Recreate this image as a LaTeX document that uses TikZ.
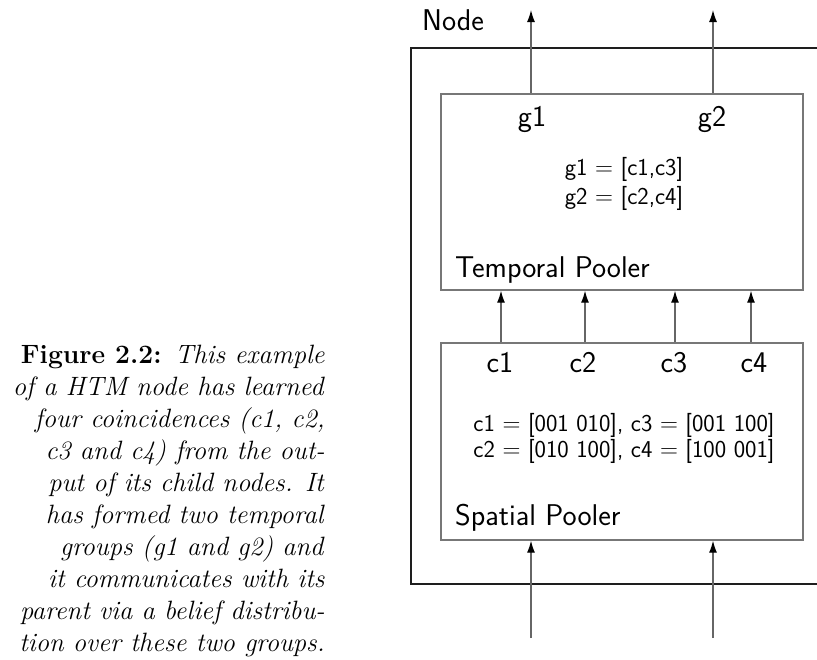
\documentclass[tikz,border=0pt]{standalone}
\usetikzlibrary{arrows.meta}
\definecolor{outerc}{HTML}{1E1E1E}
\definecolor{innerc}{HTML}{777777}
\definecolor{arrc}{HTML}{666666}
\begin{document}
\begin{tikzpicture}[x=1pt,y=-1pt,
  pooler/.style={draw=innerc,line width=1.4pt,rectangle,inner sep=0pt,minimum width=362pt},
  lbl/.style={font=\fontsize{30}{36}\selectfont\sffamily,inner sep=0pt,anchor=base},
  eqn/.style={font=\fontsize{24.2}{29}\selectfont\sffamily,inner sep=0pt,anchor=base},
  flow/.style={draw=arrc,line width=1.2pt,-{Latex[length=12pt,width=8pt,color=black]}},
  nodebox/.style={draw=outerc,line width=2.4pt}]
\useasboundingbox (0,0) rectangle (817,659);
% outer node box
\coordinate (ob1) at (830,48);
\coordinate (ob2) at (411,48);
\coordinate (ob3) at (411,584);
\coordinate (ob4) at (830,584);
\draw[nodebox] (ob1) -- (ob2) -- (ob3) -- (ob4);
\node[lbl,anchor=base west] (nodelbl) at (422,30) {Node};
% poolers
\node[pooler,minimum height=196pt] (tp) at (622,192) {};
\node[pooler,minimum height=197pt] (sp) at (622,441.5) {};
\node[lbl,anchor=base west] (tpl) at (455,277) {Temporal Pooler};
\node[lbl,anchor=base west] (spl) at (455,525) {Spatial Pooler};
% group labels
\node[lbl] (g1) at (532,126) {g1};
\node[lbl] (g2) at (712,126) {g2};
\node[eqn] (eq1) at (624,175) {g1 $=$ [c1,c3]};
\node[eqn] (eq2) at (624,204) {g2 $=$ [c2,c4]};
% coincidence labels
\node[lbl] (c1) at (500,372) {c1};
\node[lbl] (c2) at (583,372) {c2};
\node[lbl] (c3) at (674,372) {c3};
\node[lbl] (c4) at (754,372) {c4};
\node[eqn] (sq1) at (624,431) {c1 $=$ [001 010], c3 $=$ [001 100]};
\node[eqn] (sq2) at (624,457) {c2 $=$ [010 100], c4 $=$ [100 001]};
% arrows out of the node
\coordinate (out1) at (531,10);
\coordinate (out2) at (713,10);
\draw[flow] (tp.north -| out1) -- (out1);
\draw[flow] (tp.north -| out2) -- (out2);
% arrows from spatial to temporal pooler
\coordinate (m1) at (501,0);
\coordinate (m2) at (585,0);
\coordinate (m3) at (675,0);
\coordinate (m4) at (751,0);
\foreach \m in {m1,m2,m3,m4}
  \draw[flow] (sp.north -| \m) -- (tp.south -| \m);
% arrows into the node
\coordinate (in1) at (531,638);
\coordinate (in2) at (713,638);
\draw[flow] (in1) -- (sp.south -| in1);
\draw[flow] (in2) -- (sp.south -| in2);
% caption
\node[anchor=base east,align=right,inner sep=0pt,
  font=\fontsize{26.5}{32}\selectfont] (cap) at (325,651)
  {\textbf{Figure 2.2:}\enskip\textit{This example}\\
   \textit{of a HTM node has learned}\\
   \textit{four coincidences (c1, c2,}\\
   \textit{c3 and c4) from the out-}\\
   \textit{put of its child nodes. It}\\
   \textit{has formed two temporal}\\
   \textit{groups (g1 and g2) and}\\
   \textit{it communicates with its}\\
   \textit{parent via a belief distribu-}\\
   \textit{tion over these two groups.}};
\end{tikzpicture}
\end{document}
